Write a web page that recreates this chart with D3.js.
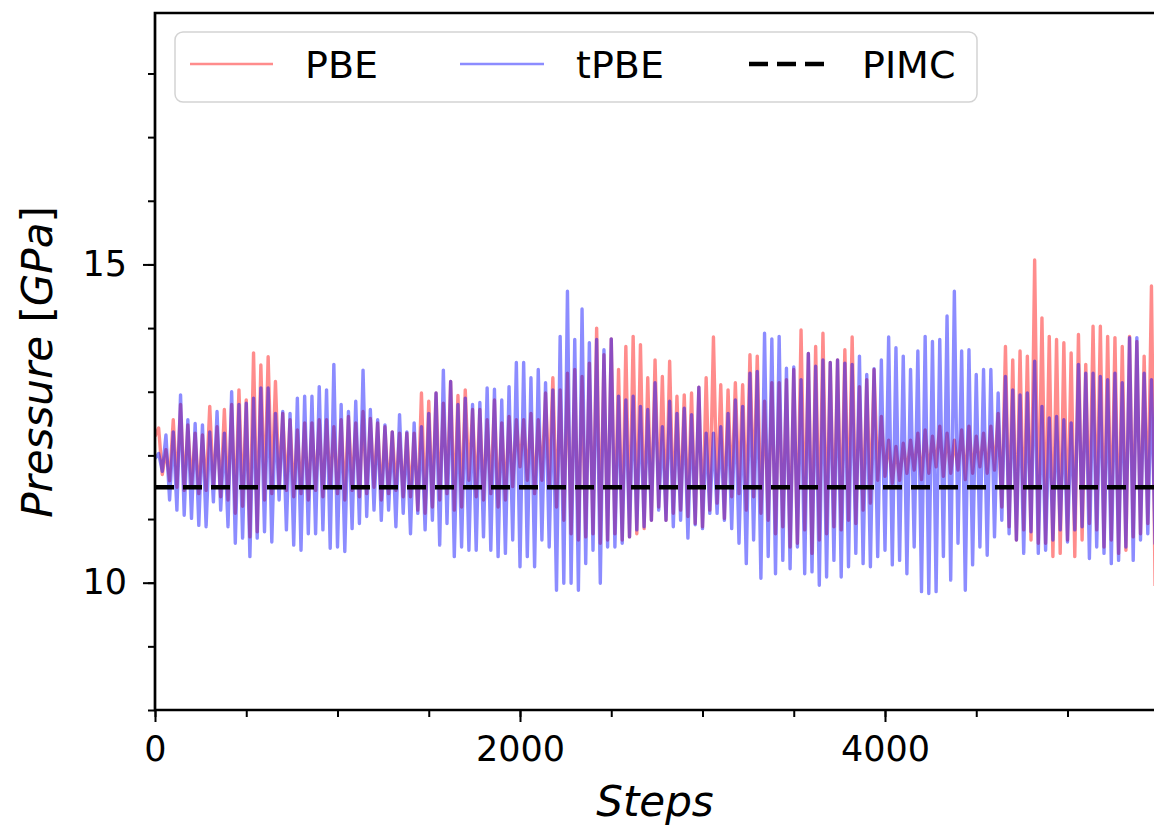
<!DOCTYPE html>
<html>
<head>
<meta charset="utf-8">
<script src="https://cdnjs.cloudflare.com/ajax/libs/d3/7.8.5/d3.min.js"></script>
<style>
  body { margin: 0; background: #fff; }
  text { font-family: "DejaVu Sans", sans-serif; fill: #000; }
</style>
</head>
<body>
<div id="chart"></div>
<script>
// one oscillation cycle = 40 steps, trough at 40k, peak at 40k+20
var cycleSteps = 40;

// PBE peaks / troughs per cycle (GPa)
var pbePeaks = [
  12.43, 12.09, 12.56, 12.80, 12.48, 12.35, 12.32, 12.77, 12.45, 12.72, 12.80, 13.03, 12.87, 13.61, 13.42, 13.55, 13.16, 12.66, 12.56, 12.40,
  12.51, 12.51, 12.56, 12.56, 12.45, 12.56, 12.61, 12.51, 12.69, 12.58, 12.51, 12.45, 12.37, 12.35, 12.35,
  12.35, 12.98, 12.85, 12.98, 12.82, 13.16, 12.94, 13.03, 12.72, 12.72, 12.56, 12.87, 12.51, 12.61, 12.56, 12.56, 12.66, 12.56, 12.98, 13.22,
  13.03, 13.29, 13.35, 13.24, 13.45, 14.00, 13.58, 13.83, 13.35, 13.71, 13.87, 13.74, 13.22, 13.50,
  13.24, 13.48, 12.93, 12.95, 12.98, 13.07, 13.22, 13.86, 13.11, 13.03, 13.14, 13.11, 13.58, 13.56, 12.85, 13.14, 13.14, 13.19, 13.35, 13.97,
  13.60, 13.71, 13.92, 13.46, 13.50, 13.66, 13.86, 13.08, 13.19, 13.35, 12.61, 12.24, 12.14, 12.19,
  12.24, 12.35, 12.40, 12.30, 12.46, 12.35, 12.24, 12.40, 12.46, 12.30, 12.35, 12.46, 12.66, 13.71, 13.50, 13.64, 13.56, 15.07, 14.16, 13.87,
  13.82, 13.77, 13.61, 13.90, 13.43, 14.03, 14.03, 13.87, 13.85, 13.71, 13.87, 13.79, 13.56, 14.66
];
var pbeTroughs = [
  12.30, 11.70, 11.60, 11.50, 11.45, 11.50, 11.40, 11.45, 11.50, 11.35, 11.30, 11.09, 11.20, 10.72, 10.80, 11.30, 11.40, 11.50, 11.45, 11.35,
  11.40, 11.30, 11.45, 11.35, 11.50, 11.40, 11.30, 11.45, 11.35, 11.40, 11.50, 11.30, 11.40, 11.45, 11.35,
  11.35, 11.14, 11.09, 11.19, 11.30, 11.40, 11.14, 11.19, 11.61, 11.35, 11.30, 11.40, 11.19, 11.30, 11.51, 11.82, 11.61, 11.40, 11.61, 11.51,
  11.19, 10.98, 10.77, 10.67, 10.72, 10.77, 10.62, 10.67, 10.77, 10.67, 10.72, 10.77, 10.85, 10.98,
  11.19, 10.98, 11.09, 11.14, 11.04, 10.93, 10.88, 11.14, 11.25, 11.01, 11.35, 11.40, 11.14, 11.35, 11.09, 10.98, 10.77, 10.88, 10.56, 10.62,
  10.83, 10.46, 10.67, 10.77, 10.88, 10.83, 10.98, 10.93, 11.14, 11.25, 11.61, 11.67, 11.56, 11.61,
  11.72, 11.77, 11.62, 11.72, 11.82, 11.67, 11.72, 11.77, 11.62, 11.72, 11.82, 11.72, 11.77, 11.19, 10.88, 10.67, 10.83, 10.67, 10.62, 10.62,
  10.41, 10.46, 10.67, 10.41, 10.67, 10.93, 10.83, 10.56, 10.67, 10.46, 10.51, 10.72, 10.77, 10.93,
  9.95
];

// tPBE peaks / troughs per cycle (GPa)
var tpbePeaks = [
  12.03, 12.32, 12.37, 12.95, 12.56, 12.50, 12.48, 12.37, 12.69, 12.35, 13.00, 12.80, 12.82, 12.90, 13.06, 13.06, 12.66, 12.69, 12.66, 12.90,
  12.93, 12.93, 13.08, 13.03, 13.43, 12.80, 12.69, 12.85, 13.34, 12.72, 12.56, 12.48, 12.37, 12.64, 12.37,
  12.51, 12.45, 12.66, 12.98, 13.34, 13.16, 12.80, 12.90, 12.80, 12.83, 13.06, 13.04, 12.87, 13.08, 13.46, 13.46, 13.22, 13.35, 13.14, 13.03,
  13.87, 14.58, 13.82, 14.30, 13.77, 13.82, 13.66, 13.83, 12.93, 12.87, 12.93, 12.77, 12.72, 13.14,
  12.45, 12.85, 12.66, 12.74, 12.64, 13.07, 12.35, 12.35, 12.45, 12.66, 12.87, 12.77, 13.29, 13.32, 13.92, 13.83, 13.87, 13.37, 13.39, 13.19,
  13.60, 13.40, 13.50, 13.46, 13.50, 13.45, 13.43, 13.56, 13.27, 13.36, 13.50, 13.86, 13.69, 13.56,
  13.35, 13.64, 13.87, 13.79, 13.82, 14.19, 14.58, 13.64, 13.66, 13.27, 13.35, 13.35, 12.98, 13.24, 13.03, 12.95, 12.98, 13.48, 12.77, 12.59,
  12.61, 12.56, 12.51, 13.43, 13.29, 13.29, 13.24, 13.19, 13.29, 13.14, 13.85, 13.85, 13.29, 13.19
];
var tpbeTroughs = [
  11.95, 11.75, 11.30, 11.14, 11.06, 11.01, 10.90, 10.88, 11.27, 11.14, 10.88, 10.62, 10.70, 10.41, 10.70, 10.80, 10.64, 11.30, 10.83, 10.59,
  10.51, 10.77, 10.77, 10.83, 10.54, 10.56, 10.49, 10.85, 10.93, 11.04, 11.14, 10.98, 11.14, 10.88, 11.09,
  10.77, 11.09, 10.83, 10.98, 10.59, 10.93, 10.41, 10.56, 10.51, 10.51, 10.72, 10.51, 10.41, 10.46, 10.67, 10.25, 10.41, 10.25, 10.67, 10.56,
  9.88, 9.99, 9.99, 9.88, 10.30, 10.51, 9.99, 10.56, 10.56, 10.62, 10.72, 10.83, 10.88, 10.98,
  11.14, 10.98, 10.88, 10.98, 10.70, 10.91, 10.85, 11.09, 11.09, 10.98, 10.85, 10.62, 10.30, 10.67, 10.07, 10.41, 10.14, 10.35, 10.22, 10.56,
  10.14, 10.17, 9.96, 10.09, 10.35, 10.09, 10.25, 10.46, 10.30, 10.25, 10.41, 10.51, 10.28, 10.35,
  10.14, 10.56, 9.86, 9.83, 9.86, 10.41, 10.04, 10.62, 9.88, 10.28, 10.56, 10.43, 10.72, 10.98, 10.77, 10.67, 10.46, 10.80, 10.46, 10.51,
  10.67, 10.83, 10.64, 10.83, 10.88, 10.38, 10.56, 10.46, 10.30, 10.35, 10.56, 10.35, 10.67, 10.77,
  10.60
];

var pimcValue = 11.5;

var xTicks = [0, 2000, 4000];
var xMinorTicks = d3.range(0, 6001, 500);
var yTicks = [10, 15];
var yMinorTicks = d3.range(8, 19, 1);

var seriesInfo = [
  {name: "PBE", color: "#ff0000", peaks: pbePeaks, troughs: pbeTroughs},
  {name: "tPBE", color: "#0000ff", peaks: tpbePeaks, troughs: tpbeTroughs}
];

var width = 1154;
var height = 825;
var plotLeft = 155, plotTop = 13, plotBottom = 710;

var svg = d3.select("#chart").append("svg")
    .attr("width", width)
    .attr("height", height);

var x = d3.scaleLinear().domain([0, 6000]).range([plotLeft, plotLeft + 6000 * 0.1825]);
var y = d3.scaleLinear().domain([8, 18.95]).range([plotBottom, plotTop]);

// clip area for the data
svg.append("clipPath").attr("id", "plotClip")
  .append("rect")
    .attr("x", plotLeft).attr("y", plotTop)
    .attr("width", x(6000) - plotLeft).attr("height", plotBottom - plotTop);

// build the zigzag points from peaks and troughs
function buildPoints(s) {
    var pts = [];
    for (var k = 0; k < s.peaks.length; k += 1) {
        pts.push([k * cycleSteps, s.troughs[k]]);
        pts.push([k * cycleSteps + cycleSteps / 2, s.peaks[k]]);
    }
    if (s.troughs.length > s.peaks.length) {
        pts.push([s.peaks.length * cycleSteps, s.troughs[s.peaks.length]]);
    }
    return pts;
}

var line = d3.line()
    .x(function (d) { return x(d[0]); })
    .y(function (d) { return y(d[1]); });

var plot = svg.append("g").attr("clip-path", "url(#plotClip)");

plot.selectAll("path.series")
    .data(seriesInfo)
  .enter().append("path")
    .attr("class", "series")
    .attr("d", function (d) { return line(buildPoints(d)); })
    .attr("fill", "none")
    .attr("stroke", function (d) { return d.color; })
    .attr("stroke-opacity", 0.45)
    .attr("stroke-width", 3.4)
    .attr("stroke-linejoin", "round");

plot.append("line")
    .attr("x1", plotLeft).attr("x2", x(6000))
    .attr("y1", y(pimcValue)).attr("y2", y(pimcValue))
    .attr("stroke", "#000")
    .attr("stroke-width", 4.5)
    .attr("stroke-dasharray", "19,9");

// axes
var xAxis = d3.axisBottom(x).tickValues(xTicks).tickSize(12).tickPadding(14)
    .tickFormat(d3.format("d"));
var xMinor = d3.axisBottom(x).tickValues(xMinorTicks).tickSize(7).tickFormat("");
var yAxis = d3.axisLeft(y).tickValues(yTicks).tickSize(12).tickPadding(16)
    .tickFormat(d3.format("d"));
var yMinor = d3.axisLeft(y).tickValues(yMinorTicks).tickSize(7).tickFormat("");

function styleAxis(g) {
    g.select(".domain").remove();
    g.selectAll(".tick line").attr("stroke", "#000").attr("stroke-width", 2);
    g.selectAll(".tick text").attr("font-size", 35).attr("font-family", "DejaVu Sans").attr("fill", "#000");
}

svg.append("g").attr("transform", "translate(0," + plotBottom + ")").call(xMinor).call(styleAxis);
svg.append("g").attr("transform", "translate(0," + plotBottom + ")").call(xAxis).call(styleAxis);
svg.append("g").attr("transform", "translate(" + plotLeft + ",0)").call(yMinor).call(styleAxis);
svg.append("g").attr("transform", "translate(" + plotLeft + ",0)").call(yAxis).call(styleAxis);

// frame
svg.append("path")
    .attr("d", "M" + x(6000) + "," + plotTop + "H" + plotLeft + "V" + plotBottom + "H" + x(6000))
    .attr("fill", "none")
    .attr("stroke", "#000")
    .attr("stroke-width", 2.7);

// axis labels
svg.append("text")
    .attr("x", 655).attr("y", 816)
    .attr("text-anchor", "middle")
    .attr("font-size", 42)
    .attr("font-style", "italic")
    .text("Steps");

var ylab = svg.append("text")
    .attr("transform", "translate(52,362) rotate(-90)")
    .attr("text-anchor", "middle")
    .attr("font-size", 42);
ylab.append("tspan").attr("font-style", "italic").text("Pressure\u00a0");
ylab.append("tspan").text("[");
ylab.append("tspan").attr("font-style", "italic").text("GPa");
ylab.append("tspan").text("]");

// legend
var legend = svg.append("g");
legend.append("rect")
    .attr("x", 175).attr("y", 32)
    .attr("width", 802).attr("height", 70)
    .attr("rx", 8)
    .attr("fill", "#fff").attr("fill-opacity", 0.8)
    .attr("stroke", "#d3d3d3").attr("stroke-width", 1.5);

var legendItems = [
  {label: "PBE", x1: 190, x2: 273, tx: 305, color: "#ff0000", opacity: 0.45, dash: null, w: 2.6},
  {label: "tPBE", x1: 460, x2: 544, tx: 576, color: "#0000ff", opacity: 0.45, dash: null, w: 2.6},
  {label: "PIMC", x1: 749, x2: 829, tx: 862, color: "#000", opacity: 1, dash: "19,9", w: 4.5}
];

legendItems.forEach(function (d) {
    legend.append("line")
        .attr("x1", d.x1).attr("x2", d.x2)
        .attr("y1", 64).attr("y2", 64)
        .attr("stroke", d.color)
        .attr("stroke-opacity", d.opacity)
        .attr("stroke-width", d.w)
        .attr("stroke-dasharray", d.dash);
    legend.append("text")
        .attr("x", d.tx).attr("y", 78)
        .attr("font-size", 38)
        .text(d.label);
});
</script>
</body>
</html>
